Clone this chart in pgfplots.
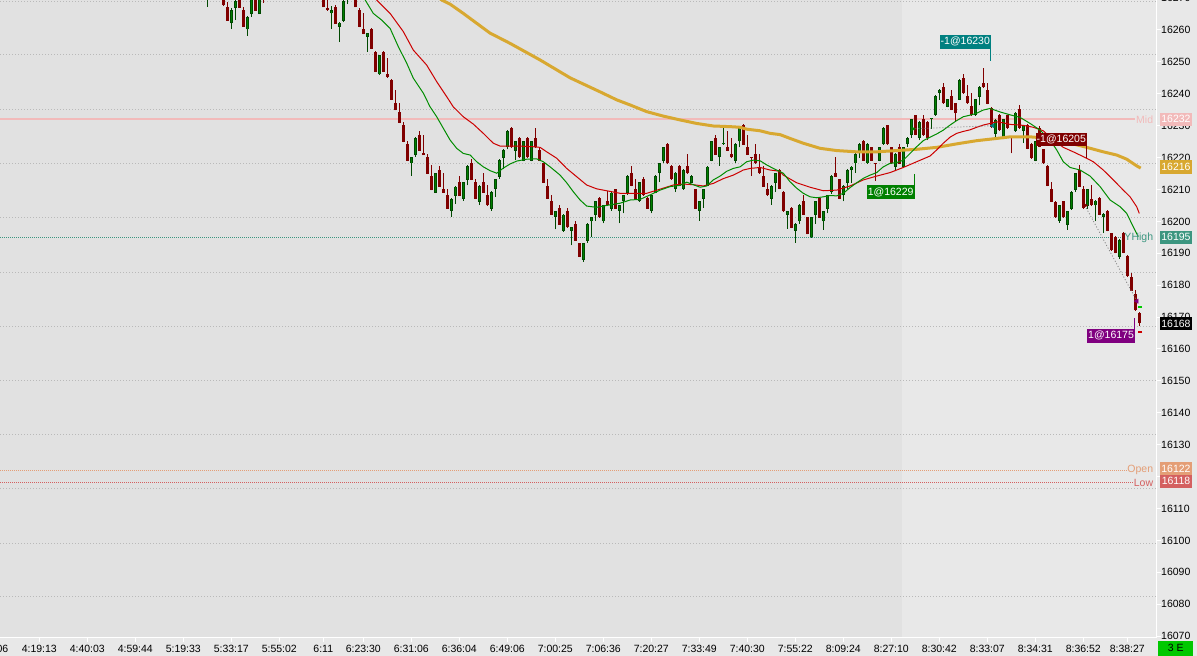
\documentclass[border=0pt]{standalone}
\usepackage{fontspec}
\setmainfont{Liberation Sans}
\usepackage{pgfplots}
\usepackage{pgfplotstable}
\pgfplotsset{compat=1.18}

\definecolor{bgL}{RGB}{225,225,225}
\definecolor{bgR}{RGB}{232,232,232}
\definecolor{gridc}{RGB}{185,185,185}
\definecolor{candR}{RGB}{128,0,0}
\definecolor{candG}{RGB}{0,128,0}
\definecolor{candGd}{RGB}{0,72,0}
\definecolor{emaG}{RGB}{0,140,0}
\definecolor{emaR}{RGB}{204,0,0}
\definecolor{emaY}{RGB}{216,168,48}
\definecolor{midc}{RGB}{242,186,186}
\definecolor{yhic}{RGB}{60,150,128}
\definecolor{openc}{RGB}{228,158,118}
\definecolor{lowc}{RGB}{212,96,96}
\definecolor{tealx}{RGB}{0,128,128}
\definecolor{purp}{RGB}{128,0,128}
\definecolor{boxgreen}{RGB}{0,200,0}

% bar index, open, high, low, close
\pgfplotstableread{
i o h l c
51 16271.0 16276.0 16267.3 16274.0
55 16272.0 16274.0 16267.5 16267.9
56 16267.3 16268.9 16262.9 16262.9
57 16262.1 16267.0 16260.4 16266.3
58 16267.0 16271.0 16263.1 16269.0
59 16271.0 16273.0 16267.0 16267.0
60 16266.3 16267.1 16261.0 16261.0
61 16260.2 16264.5 16258.2 16264.0
62 16265.0 16273.0 16264.2 16271.0
63 16271.0 16273.0 16266.0 16266.0
64 16265.0 16273.0 16265.0 16270.5
65 16275.0 16278.0 16268.5 16271.0
80 16272.0 16274.0 16267.1 16267.1
81 16266.8 16272.0 16266.1 16266.3
82 16265.2 16267.5 16260.4 16266.3
83 16267.3 16267.9 16261.9 16261.9
84 16261.0 16262.5 16256.2 16262.3
85 16262.9 16270.0 16262.5 16269.1
86 16270.0 16276.0 16268.1 16274.0
88 16271.0 16273.0 16267.1 16267.1
89 16266.3 16267.0 16260.8 16261.0
90 16260.3 16265.4 16258.6 16258.7
91 16257.9 16259.2 16253.2 16259.0
92 16260.3 16260.5 16254.0 16254.1
93 16253.1 16253.3 16246.8 16246.9
94 16246.1 16252.3 16246.0 16252.1
95 16253.1 16253.3 16246.8 16246.9
96 16246.2 16251.2 16245.0 16245.2
97 16244.3 16244.5 16238.0 16238.1
98 16237.0 16241.2 16234.8 16234.9
99 16234.2 16237.0 16230.8 16230.9
100 16230.1 16231.2 16224.8 16224.9
101 16224.3 16225.3 16218.9 16219.0
102 16218.2 16220.3 16214.3 16220.1
103 16220.8 16226.3 16220.3 16226.1
104 16227.0 16228.3 16222.1 16222.2
105 16221.3 16227.1 16220.8 16220.8
106 16220.3 16221.1 16214.8 16214.9
107 16214.2 16217.7 16209.7 16209.8
108 16209.0 16215.3 16208.9 16215.1
109 16216.1 16217.4 16210.8 16210.9
110 16210.2 16215.1 16208.9 16209.0
111 16208.2 16210.1 16203.9 16204.0
112 16203.2 16207.3 16201.5 16207.1
113 16208.0 16211.1 16205.5 16210.9
114 16212.3 16214.2 16207.9 16208.0
115 16207.1 16212.5 16206.5 16212.3
116 16213.0 16217.6 16211.3 16217.4
117 16218.4 16219.5 16212.9 16213.0
118 16212.3 16213.2 16207.0 16207.1
119 16206.1 16211.3 16205.1 16211.1
120 16212.3 16215.3 16208.9 16209.0
121 16208.2 16211.3 16204.9 16205.0
122 16204.0 16209.4 16203.4 16209.2
123 16210.1 16213.4 16207.6 16213.2
124 16214.0 16219.4 16213.4 16219.2
125 16219.9 16222.6 16216.3 16222.4
126 16223.2 16228.5 16222.6 16228.3
127 16229.3 16229.5 16223.0 16223.2
128 16222.2 16225.3 16219.2 16225.1
129 16226.1 16226.3 16220.0 16220.1
130 16219.0 16225.3 16218.8 16225.1
131 16226.1 16226.3 16220.0 16220.1
132 16219.0 16225.3 16218.8 16225.1
133 16226.1 16229.3 16223.0 16223.2
134 16222.4 16223.2 16218.9 16219.0
135 16218.2 16218.4 16212.0 16212.1
136 16211.1 16213.2 16207.0 16207.1
137 16206.3 16208.2 16202.0 16202.1
138 16201.3 16203.4 16197.5 16203.2
139 16204.2 16205.0 16198.9 16199.0
140 16197.1 16202.3 16196.7 16202.1
141 16203.2 16204.2 16198.0 16198.1
142 16197.1 16198.3 16192.5 16198.1
143 16199.2 16200.2 16193.9 16194.0
144 16193.1 16193.3 16188.8 16188.9
145 16187.9 16193.3 16187.3 16193.1
146 16194.0 16199.4 16193.3 16199.2
147 16200.0 16201.5 16195.2 16201.3
148 16202.1 16206.5 16200.2 16206.3
149 16207.3 16207.5 16201.1 16201.3
150 16200.0 16205.2 16199.4 16205.0
151 16206.3 16209.4 16204.9 16205.0
152 16204.0 16209.2 16203.4 16209.0
153 16210.1 16210.3 16203.9 16204.0
154 16203.2 16205.2 16199.4 16205.0
155 16206.3 16208.4 16202.5 16208.2
156 16209.0 16214.4 16208.4 16214.2
157 16215.3 16217.4 16211.0 16211.1
158 16210.1 16213.2 16207.0 16207.1
159 16206.3 16212.5 16206.1 16212.3
160 16213.2 16214.0 16208.0 16208.2
161 16207.3 16207.5 16203.9 16204.0
162 16203.2 16208.4 16202.5 16208.2
163 16209.0 16214.4 16208.8 16214.2
164 16215.1 16218.4 16212.3 16218.2
165 16219.0 16223.4 16218.2 16223.2
166 16224.3 16224.5 16218.0 16218.2
167 16217.4 16217.6 16213.0 16213.2
168 16210.1 16215.5 16209.2 16215.3
169 16217.4 16217.6 16211.0 16211.1
170 16210.1 16216.3 16209.9 16216.1
171 16217.4 16221.1 16215.0 16215.1
172 16212.1 16214.4 16212.0 16214.2
173 16210.1 16210.3 16203.9 16204.0
174 16203.2 16206.5 16200.2 16206.3
175 16207.1 16210.3 16204.2 16210.1
176 16211.1 16217.4 16211.0 16217.2
177 16219.0 16225.3 16218.8 16225.1
178 16226.1 16227.2 16220.8 16220.9
179 16220.1 16223.4 16217.4 16223.2
180 16224.2 16230.1 16224.0 16224.4
181 16223.2 16228.2 16222.0 16222.2
182 16221.1 16226.1 16220.0 16220.1
183 16219.0 16224.5 16218.2 16224.3
184 16225.1 16229.5 16223.2 16229.3
185 16230.1 16230.5 16223.9 16224.0
186 16223.2 16227.2 16220.8 16220.9
187 16220.1 16220.2 16214.2 16219.8
188 16221.1 16224.3 16218.0 16218.2
189 16217.2 16221.1 16215.0 16215.1
190 16214.2 16217.4 16210.8 16210.9
191 16210.1 16212.1 16208.0 16208.2
192 16207.1 16211.3 16205.2 16211.1
193 16212.1 16215.3 16209.2 16215.1
194 16216.1 16216.3 16210.0 16210.1
195 16209.2 16209.4 16203.0 16203.2
196 16202.1 16203.4 16197.7 16203.2
197 16204.2 16204.4 16197.8 16197.9
198 16197.1 16199.4 16193.3 16199.2
199 16200.0 16205.4 16199.2 16205.2
200 16206.3 16208.2 16202.0 16202.1
201 16201.3 16201.5 16195.9 16196.0
202 16195.0 16201.5 16194.9 16201.3
203 16202.1 16206.5 16199.2 16206.3
204 16207.3 16207.5 16201.0 16201.1
205 16200.0 16203.4 16197.3 16203.2
206 16204.0 16208.4 16202.5 16208.2
207 16209.2 16214.4 16208.6 16214.2
208 16215.3 16220.3 16213.9 16214.0
209 16213.2 16213.4 16207.0 16207.1
210 16208.2 16211.3 16206.3 16211.1
211 16212.1 16216.3 16210.3 16216.1
212 16216.1 16217.4 16212.1 16217.2
213 16218.2 16221.3 16215.3 16221.1
214 16221.3 16224.5 16219.9 16224.3
215 16225.3 16225.5 16218.9 16219.0
216 16218.2 16224.5 16218.0 16224.3
217 16223.2 16223.4 16218.9 16219.0
218 16218.3 16218.4 16212.8 16218.1
219 16219.0 16223.4 16218.8 16223.2
220 16224.3 16229.5 16224.1 16229.3
221 16230.1 16230.3 16224.1 16224.3
222 16223.2 16223.4 16218.0 16218.2
223 16217.2 16221.3 16215.7 16221.1
224 16223.2 16224.3 16217.9 16218.0
225 16217.2 16223.4 16217.0 16223.2
226 16224.3 16226.3 16223.2 16226.1
227 16227.0 16232.2 16226.1 16232.0
228 16233.3 16233.5 16227.0 16227.2
229 16226.1 16231.4 16225.5 16231.2
230 16232.0 16233.3 16226.9 16227.0
231 16231.2 16231.4 16225.5 16226.1
232 16232.1 16232.4 16229.1 16232.3
233 16233.3 16239.5 16233.1 16239.3
234 16240.2 16241.4 16238.1 16241.2
235 16242.2 16243.3 16236.9 16237.0
236 16235.9 16238.5 16235.7 16238.3
237 16239.3 16241.2 16234.8 16234.9
238 16237.0 16237.2 16231.4 16233.9
239 16238.1 16244.5 16238.0 16244.3
240 16244.9 16246.2 16240.0 16240.2
241 16239.3 16242.9 16236.9 16237.0
242 16236.2 16240.2 16233.1 16233.3
243 16233.3 16238.5 16233.1 16238.3
244 16239.1 16242.4 16236.4 16242.2
245 16243.3 16248.1 16241.9 16242.0
246 16241.2 16243.3 16236.7 16236.8
247 16235.5 16236.0 16229.4 16229.6
248 16227.4 16232.0 16226.5 16231.8
249 16233.5 16233.7 16228.3 16228.5
250 16225.9 16232.2 16225.7 16232.0
251 16233.3 16233.5 16229.0 16229.2
252 16226.3 16226.4 16221.3 16226.0
253 16228.3 16234.3 16228.1 16234.1
254 16235.1 16236.5 16229.1 16229.3
255 16228.3 16230.3 16224.5 16230.1
256 16230.1 16230.5 16222.6 16222.8
257 16224.3 16224.5 16219.7 16219.9
258 16219.0 16225.3 16218.8 16225.1
259 16229.3 16230.0 16223.2 16223.4
260 16222.6 16222.8 16218.0 16218.2
261 16217.4 16217.6 16211.0 16211.1
262 16210.1 16212.3 16206.0 16206.1
263 16206.0 16206.5 16201.1 16201.3
264 16200.2 16205.2 16199.6 16205.0
265 16206.3 16206.5 16201.1 16201.3
266 16198.8 16203.4 16197.3 16203.2
267 16203.8 16209.4 16203.6 16209.2
268 16209.8 16215.3 16209.2 16215.1
269 16216.1 16217.7 16210.7 16210.9
270 16210.1 16211.1 16204.0 16204.2
271 16204.8 16210.3 16204.0 16210.1
272 16207.1 16211.3 16204.8 16205.0
273 16205.0 16206.7 16200.0 16206.5
274 16207.3 16207.5 16201.9 16202.1
275 16201.3 16202.5 16196.5 16202.3
276 16203.4 16203.6 16196.9 16197.1
277 16196.3 16196.5 16190.8 16191.0
278 16195.2 16195.4 16190.0 16190.2
279 16188.9 16194.4 16188.3 16194.2
280 16196.5 16196.7 16190.0 16190.2
281 16189.2 16189.4 16182.7 16182.9
282 16182.5 16183.9 16178.1 16178.3
283 16177.2 16178.5 16172.0 16172.2
284 16171.4 16171.6 16167.2 16168.0
}\candles

\pgfplotsset{
  upc/.style={x filter/.expression={\thisrow{c}>=\thisrow{o} ? x : nan}},
  dnc/.style={x filter/.expression={\thisrow{c}<\thisrow{o} ? x : nan}},
  bars/.style={draw=none, forget plot,
    error bars/.cd, y dir=plus, y explicit, error mark=none,
    error bar style={#1}},
}

\tikzset{
  rbox/.style={minimum width=32pt, minimum height=13.5pt, inner sep=0pt,
    text=white, font=\fontsize{10.5}{12}\selectfont},
  tbox/.style={minimum height=13.5pt, inner xsep=1.2pt, inner ysep=0pt,
    text=white, font=\fontsize{10.5}{12}\selectfont},
  rtxt/.style={anchor=east, inner sep=0pt, font=\fontsize{10.5}{12}\selectfont},
}

\begin{document}
\begin{tikzpicture}
\fill[bgR] (0,0) rectangle (1197pt,656pt);
\fill[bgL] (0,18pt) rectangle (902pt,656pt);
\begin{axis}[
  at={(0pt,18pt)}, anchor=south west,
  scale only axis, width=1157pt, height=638pt,
  xmin=-0.825, xmax=288.425,
  ymin=16069.4, ymax=16269.4,
  axis x line*=bottom, axis y line*=right,
  axis line style={white, line width=1pt},
  tick style={white, line width=1pt},
  major tick length=4pt, tick align=outside,
  xtick={9,21,33,45,57,69,80,90,102,114,126,138,150,162,174,186,198,210,222,234,246,258,270,281},
  xticklabels={4:19:13,4:40:03,4:59:44,5:19:33,5:33:17,5:55:02,6:11,6:23:30,6:31:06,6:36:04,6:49:06,7:00:25,7:06:36,7:20:27,7:33:49,7:40:30,7:55:22,8:09:24,8:27:10,8:30:42,8:33:07,8:34:31,8:36:52,8:38:27},
  ytick={16070,16080,...,16260},
  yticklabels={16070,16080,16090,16100,16110,16120,16130,16140,16150,16160,16170,16180,16190,16200,16210,16220,16230,16240,16250,16260},
  extra y ticks={16269.1,16252.2,16235.2,16218.3,16201.4,16184.1,16167.2,16150.0,16133.3,16116.4,16099.2,16082.3},
  extra y tick labels={},
  extra y tick style={grid=major, major tick length=0pt},
  major grid style={gridc, line width=0.8pt, dash pattern=on 1pt off 2pt},
  tick label style={font=\fontsize{10.5}{12}\selectfont, text=black, inner sep=0pt},
  yticklabel style={anchor=west},
  xticklabel style={anchor=north, yshift=-3pt},
  clip mode=individual,
]
% reference levels
\addplot[midc, line width=2pt, forget plot] coordinates {(-0.825,16232) (282.9,16232)};
\addplot[yhic, line width=1pt, dash pattern=on 1pt off 1pt, forget plot] coordinates {(-0.825,16195) (280.6,16195)};
\addplot[openc, line width=1pt, dash pattern=on 1pt off 1pt, forget plot] coordinates {(-0.825,16122) (280.8,16122)};
\addplot[lowc, line width=1pt, dash pattern=on 1pt off 1pt, forget plot] coordinates {(-0.825,16118) (282.3,16118)};

% wicks
\addplot[upc, bars={draw=candGd, line width=1pt}]
  table[x=i, y=l, y error plus expr=\thisrow{h}-\thisrow{l}] {\candles};
\addplot[dnc, bars={draw=candR, line width=1pt}]
  table[x=i, y=l, y error plus expr=\thisrow{h}-\thisrow{l}] {\candles};
% bodies
\addplot[upc, bars={draw=candGd, line width=3.2pt}]
  table[x=i, y=o, y error plus expr={max(\thisrow{c}-\thisrow{o},0.35)}] {\candles};
\addplot[upc, bars={draw=candG, line width=1.4pt, shorten <=0.8pt, shorten >=0.8pt}]
  table[x=i, y=o, y error plus expr={max(\thisrow{c}-\thisrow{o},0.35)}] {\candles};
\addplot[dnc, bars={draw=candR, line width=3.2pt}]
  table[x=i, y=c, y error plus expr={max(\thisrow{o}-\thisrow{c},0.35)}] {\candles};

% slow average
\addplot[emaY, line width=3pt] coordinates {
(108.7,16270.3) (109.6,16269.4) (111.7,16268.1) (115.0,16265.2) (118.35,16262.1)
(121.7,16259.0) (125.0,16256.9) (126.7,16255.8) (134.2,16250.6) (141.7,16245.0)
(149.2,16240.6) (153.35,16238.1) (156.7,16236.5) (160.85,16234.4) (165.0,16233.0)
(169.2,16231.8) (173.35,16230.7) (177.5,16229.9) (181.7,16229.7) (184.2,16229.5)
(185.85,16228.9) (189.2,16228.4) (191.7,16227.6) (194.2,16227.2) (196.7,16226.0)
(200.0,16224.5) (204.2,16222.9) (208.35,16222.2) (213.35,16221.8) (218.35,16221.8)
(223.35,16222.2) (228.35,16222.6) (233.35,16223.2) (238.35,16224.3) (243.35,16225.3)
(248.35,16226.0) (251.7,16226.5) (256.7,16226.5) (261.7,16226.0) (266.7,16224.5)
(270.85,16223.2) (275.0,16221.8) (278.35,16220.8) (280.85,16219.5) (283.35,16217.4)
(284.35,16216.7)};
% slower EMA
\addplot[emaR, line width=1pt] coordinates {
(92.2,16271.0) (93.35,16269.4) (96.7,16265.2) (100.0,16259.5) (102.5,16253.7)
(105.85,16249.0) (108.35,16243.8) (110.85,16239.1) (112.5,16235.9) (115.0,16232.8)
(117.5,16230.5) (120.0,16227.6) (122.5,16224.5) (124.2,16223.6) (129.2,16223.6)
(132.5,16223.4) (134.2,16223.2) (135.85,16221.8) (138.35,16219.8) (140.85,16216.6)
(143.35,16214.0) (145.85,16211.4) (148.35,16210.2) (150.85,16209.6) (154.2,16208.8)
(157.5,16208.8) (160.85,16208.8) (164.2,16210.1) (167.5,16211.4) (170.0,16211.7)
(172.5,16211.5) (175.0,16211.1) (177.5,16211.9) (180.0,16213.4) (182.5,16214.5)
(185.0,16216.1) (186.7,16216.6) (189.2,16216.9) (191.7,16216.1) (194.2,16215.7)
(195.0,16214.5) (198.35,16212.1) (201.7,16210.7) (205.0,16209.6) (208.35,16209.8)
(211.7,16211.1) (215.0,16213.0) (218.35,16214.2) (221.7,16215.3) (225.0,16216.9)
(228.35,16218.7) (231.7,16220.5) (233.35,16222.4) (235.0,16224.5) (236.7,16226.4)
(238.35,16227.6) (240.0,16228.2) (241.7,16228.7) (243.35,16229.5) (245.0,16230.2)
(246.7,16230.7) (248.35,16231.2) (250.0,16230.9) (251.7,16230.4) (255.0,16230.1)
(257.5,16229.5) (260.0,16228.4) (262.5,16225.5) (265.0,16223.2) (267.5,16221.8)
(270.0,16220.3) (272.5,16218.7) (275.0,16216.1) (277.5,16213.0) (280.0,16209.8)
(281.7,16207.7) (283.35,16204.6) (284.0,16202.5)};
% fast EMA
\addplot[emaG, line width=1pt] coordinates {
(89.7,16271.0) (92.5,16265.2) (94.6,16263.1) (96.7,16260.5) (98.75,16254.8)
(100.85,16249.6) (102.5,16244.9) (105.0,16240.2) (106.7,16235.9) (108.35,16232.8)
(110.0,16229.2) (111.7,16225.5) (113.35,16222.9) (115.0,16221.3) (116.7,16220.8)
(118.35,16218.7) (120.0,16217.1) (121.7,16215.9) (123.35,16215.1) (125.0,16216.7)
(126.7,16218.0) (128.35,16218.9) (130.85,16219.5) (133.35,16219.6) (135.0,16218.7)
(136.7,16217.1) (139.2,16214.5) (140.85,16212.1) (142.5,16209.3) (144.2,16206.7)
(145.85,16204.8) (148.35,16204.4) (150.85,16205.0) (154.2,16205.7) (156.7,16206.7)
(159.2,16206.9) (161.7,16208.3) (164.2,16209.8) (166.7,16210.9) (169.2,16211.3)
(170.85,16212.3) (172.5,16211.5) (174.2,16210.7) (175.85,16211.1) (177.5,16213.0)
(179.2,16214.2) (180.85,16215.7) (182.5,16216.6) (184.2,16217.1) (185.85,16218.7)
(187.5,16219.2) (189.2,16219.0) (190.85,16217.7) (192.5,16216.6) (195.0,16215.1)
(196.7,16212.4) (198.35,16210.4) (200.0,16208.8) (201.7,16207.7) (203.35,16207.4)
(205.0,16207.7) (206.7,16208.1) (208.35,16208.0) (210.0,16208.8) (211.7,16210.6)
(213.35,16212.1) (215.0,16213.5) (216.7,16214.5) (218.35,16215.3) (220.0,16217.1)
(221.7,16218.2) (223.35,16218.4) (225.0,16219.2) (226.7,16221.3) (228.35,16223.4)
(230.0,16225.3) (231.7,16226.4) (233.35,16227.4) (235.0,16228.6) (236.7,16230.2)
(238.35,16231.6) (240.0,16232.8) (241.7,16233.3) (243.35,16233.9) (245.0,16234.9)
(246.7,16235.4) (249.2,16234.3) (251.7,16233.4) (254.2,16232.6) (256.7,16230.7)
(259.2,16228.6) (261.7,16225.5) (263.35,16222.4) (265.0,16218.7) (266.7,16216.9)
(269.2,16216.1) (271.7,16214.2) (274.2,16210.9) (276.7,16206.7) (279.2,16204.6)
(280.85,16202.5) (282.5,16198.3) (283.75,16195.2)};

% trades
\addplot[gray, line width=0.8pt, dash pattern=on 1pt off 2pt] coordinates {(227.3,16229) (247.4,16230)};
\addplot[gray, line width=0.8pt, dash pattern=on 1pt off 2pt] coordinates {(270.4,16205) (283.4,16175)};
\addplot[only marks, mark=triangle*, mark size=2.6pt, mark options={rotate=-90, fill=candG, draw=candG}] coordinates {(227.3,16229)};
\addplot[only marks, mark=triangle*, mark size=2.6pt, mark options={rotate=90, fill=tealx, draw=tealx}] coordinates {(247.4,16230)};
\addplot[only marks, mark=triangle*, mark size=2.6pt, mark options={rotate=-90, fill=candR, draw=candR}] coordinates {(270.4,16205)};
\addplot[only marks, mark=triangle*, mark size=2.6pt, mark options={rotate=90, fill=purp, draw=purp}] coordinates {(283.4,16175)};
\addplot[only marks, mark=-, mark size=2pt, mark options={line width=2pt, draw=green!80!black}] coordinates {(284.2,16173.3)};
\addplot[only marks, mark=-, mark size=2pt, mark options={line width=2pt, draw=red!80!black}] coordinates {(284.2,16165.4)};

\draw[tealx, line width=1pt] (axis cs:246.85,16254.4) -- (axis cs:246.85,16250.4);
\node[tbox, fill=tealx, anchor=east] at (axis cs:247.0,16256.3) {-1@16230};
\draw[candG, line width=1pt] (axis cs:227.75,16214.9) -- (axis cs:227.75,16211.1);
\node[tbox, fill=candG, anchor=east] at (axis cs:227.9,16209.2) {1@16229};
\draw[candR, line width=1pt] (axis cs:270.85,16223.6) -- (axis cs:270.85,16219.8);
\node[tbox, fill=candR, anchor=east] at (axis cs:271.0,16225.6) {-1@16205};
\draw[purp, line width=1pt] (axis cs:282.7,16169.7) -- (axis cs:282.7,16166.2);
\node[tbox, fill=purp, anchor=east] at (axis cs:283.0,16164.1) {1@16175};

\node[rtxt, text=midc] at (axis cs:287.5,16232) {Mid};
\node[rtxt, text=yhic] at (axis cs:287.5,16195) {YHigh};
\node[rtxt, text=openc] at (axis cs:287.5,16122) {Open};
\node[rtxt, text=lowc] at (axis cs:287.5,16118) {Low};

\coordinate (cTop) at (axis cs:288.425,16270);
\coordinate (cMid) at (axis cs:288.425,16232);
\coordinate (cAvg) at (axis cs:288.425,16217);
\coordinate (cYH) at (axis cs:288.425,16195);
\coordinate (cLast) at (axis cs:288.425,16168);
\coordinate (cOpen) at (axis cs:288.425,16122.5);
\coordinate (cLow) at (axis cs:288.425,16118.5);
\end{axis}

\node[anchor=west, inner sep=0pt, font=\fontsize{10.5}{12}\selectfont] at ([xshift=4pt]cTop) {16270};
\node[rbox, fill=midc] at ([xshift=19pt]cMid) {16232};
\node[rbox, fill=emaY] at ([xshift=19pt]cAvg) {16216};
\node[rbox, fill=yhic] at ([xshift=19pt]cYH) {16195};
\node[rbox, fill=black] at ([xshift=19pt]cLast) {16168};
\node[rbox, fill=openc] at ([xshift=19pt]cOpen) {16122};
\node[rbox, fill=lowc] at ([xshift=19pt]cLow) {16118};
\node[anchor=north east, inner sep=0pt, font=\fontsize{10.5}{12}\selectfont] at (8.5pt,11pt) {06};
\node[fill=boxgreen, minimum width=35pt, minimum height=15pt, inner sep=0pt,
  anchor=south west, font=\fontsize{10.5}{12}\selectfont] at (1158pt,0pt) {3 E};
\pgfresetboundingbox
\path[use as bounding box] (0,0) rectangle (1197pt,656pt);
\end{tikzpicture}
\end{document}
